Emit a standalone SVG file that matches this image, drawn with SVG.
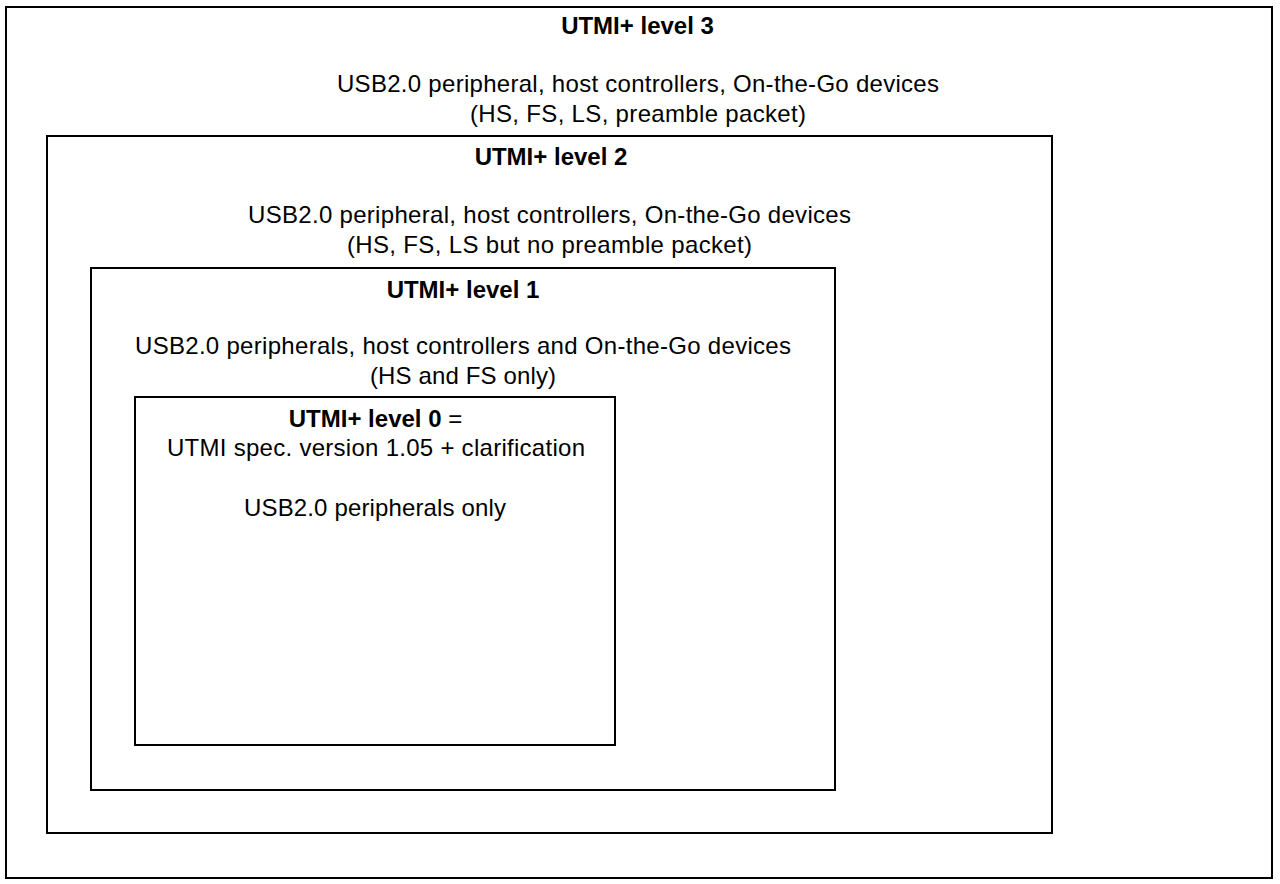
<svg xmlns="http://www.w3.org/2000/svg" width="1280" height="884" viewBox="0 0 1280 884">
<style>
rect.box{fill:none;stroke:#000;stroke-width:2}
text{font-family:"Liberation Sans",Arial,sans-serif;font-size:24px;fill:#000;text-anchor:middle}
.b{font-weight:bold}
</style>
<rect x="0" y="0" width="1280" height="884" fill="#fff"/>
<g id="level3">
<rect class="box" x="6" y="7" width="1266" height="871"/>
<text class="b" x="637.5" y="34">UTMI+ level 3</text>
<text x="638" y="92" textLength="602">USB2.0 peripheral, host controllers, On-the-Go devices</text>
<text x="638" y="122" textLength="336">(HS, FS, LS, preamble packet)</text>
</g>
<g id="level2">
<rect class="box" x="47" y="136" width="1005" height="697"/>
<text class="b" x="551" y="165">UTMI+ level 2</text>
<text x="549.5" y="223" textLength="603">USB2.0 peripheral, host controllers, On-the-Go devices</text>
<text x="549.5" y="253" textLength="405">(HS, FS, LS but no preamble packet)</text>
</g>
<g id="level1">
<rect class="box" x="91" y="268" width="744" height="522"/>
<text class="b" x="463" y="298">UTMI+ level 1</text>
<text x="463" y="354" textLength="656">USB2.0 peripherals, host controllers and On-the-Go devices</text>
<text x="463" y="384" textLength="186">(HS and FS only)</text>
</g>
<g id="level0">
<rect class="box" x="135" y="397" width="480" height="348"/>
<text x="375.5" y="427"><tspan class="b">UTMI+ level 0</tspan> =</text>
<text x="376" y="456" textLength="418">UTMI spec. version 1.05 + clarification</text>
<text x="375" y="516" textLength="262">USB2.0 peripherals only</text>
</g>
<g id="connectors"/>
</svg>
